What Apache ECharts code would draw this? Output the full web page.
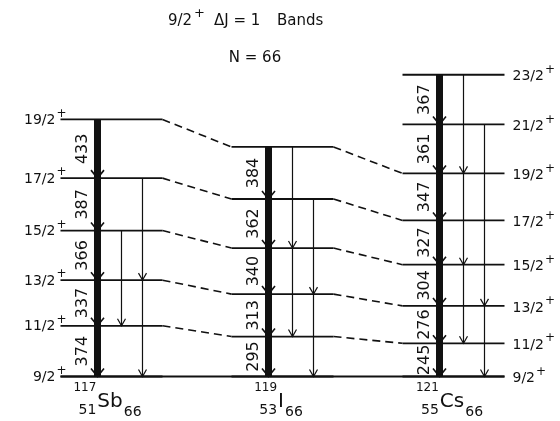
<!DOCTYPE html>
<html>
<head>
<meta charset="utf-8">
<script src="https://cdn.jsdelivr.net/npm/echarts@6/dist/echarts.min.js"></script>
<style>
  html, body { margin: 0; padding: 0; background: #fff; }
  #chart { width: 560px; height: 421px; }
</style>
</head>
<body>
<div id="chart"></div>
<script>
// Level schemes of the 9/2+ ΔJ=1 bands in the N=66 isotones
const nuclides = ['Sb', 'I', 'Cs'];
const massNumbers = [117, 119, 121];
const protonNumbers = [51, 53, 55];
const neutronNumbers = [66, 66, 66];

// ΔJ=1 gamma-ray energies (keV), listed from the 11/2 -> 9/2 transition upward
const sbTransitions = [374, 337, 366, 387, 433];
const iTransitions = [295, 313, 340, 362, 384];
const csTransitions = [245, 276, 304, 327, 347, 361, 367];

const spins = ['9/2', '11/2', '13/2', '15/2', '17/2', '19/2', '21/2', '23/2'];
const parity = '+';

// ΔJ=2 crossovers: [initial level, final level, arrowhead drawn]
const sbCrossovers = [[3, 1, true], [4, 2, true], [2, 0, true]];
const iCrossovers = [[5, 3, true], [3, 1, true], [4, 2, true], [2, 0, true]];
const csCrossovers = [[7, 5, true], [5, 3, true], [3, 1, true], [6, 4, false], [4, 2, true], [2, 0, true]];

const titleText = ['9/2', '+', 'ΔJ = 1', 'Bands'];
const subtitleText = 'N = 66';

const transitions = [sbTransitions, iTransitions, csTransitions];
const crossovers = [sbCrossovers, iCrossovers, csCrossovers];

// level energies relative to the 9/2+ band head
const levelEnergies = transitions.map(t => {
  const e = [0];
  t.forEach(v => e.push(e[e.length - 1] + v));
  return e;
});

const INK = '#111';
const FONT = '"DejaVu Sans", sans-serif';
const HALF = 51;          // half width of a level line (px)
const BAR_DX = -14;       // ΔJ=1 cascade position
const LANE_DX = [31, 10]; // crossover lanes (even / odd initial level)

const measureCtx = document.createElement('canvas').getContext('2d');
function textWidth(str, size) {
  measureCtx.font = size + 'px ' + FONT;
  return measureCtx.measureText(str).width;
}

function txt(x, y, text, size, align, vAlign, extra) {
  return Object.assign({
    type: 'text', x: x, y: y,
    style: { text: text, fill: INK, fontSize: size, fontFamily: FONT,
             align: align || 'left', verticalAlign: vAlign || 'middle' }
  }, extra || {});
}
function seg(x1, y1, x2, y2, w, dash) {
  return { type: 'line', shape: { x1, y1, x2, y2 },
           style: { stroke: INK, lineWidth: w, lineDash: dash || null, lineCap: 'butt' } };
}
function vHead(x, y, hw, h, w) {
  return { type: 'polyline', shape: { points: [[x - hw, y - h], [x, y], [x + hw, y - h]] },
           style: { stroke: INK, lineWidth: w, fill: null } };
}

function renderScheme(params, api) {
  const n = params.dataIndex;
  const energies = levelEnergies[n];
  const cx = api.coord([n, 0])[0];
  const py = energies.map(e => api.coord([n, e])[1]);
  const top = py.length - 1;
  const children = [];

  // level lines
  py.forEach(y => children.push(seg(cx - HALF, y, cx + HALF, y, 1.8)));

  // ΔJ=1 cascade: thick bar with arrowheads at each lower level
  const bx = cx + BAR_DX;
  children.push({ type: 'rect', shape: { x: bx - 3.5, y: py[top], width: 7, height: py[0] - py[top] },
                  style: { fill: INK } });
  for (let k = 0; k < top; k++) {
    children.push(vHead(bx, py[k], 6.5, 8, 1.6));
    const e = transitions[n][k];
    children.push(txt(cx - 29, (py[k] + py[k + 1]) / 2, String(e), 16, 'center', 'middle',
                      { rotation: Math.PI / 2 }));
  }

  // ΔJ=2 crossovers
  crossovers[n].forEach(([from, to, head]) => {
    const x = cx + LANE_DX[from % 2];
    children.push(seg(x, py[from], x, py[to], 1.2));
    if (head) children.push(vHead(x, py[to], 4, 7, 1.2));
  });

  // spin labels on the outer schemes
  if (n === 0) {
    py.forEach((y, k) => {
      children.push(txt(cx - HALF - 5, y + 1, spins[k], 14, 'right'));
      children.push(txt(cx - HALF - 4, y - 6, parity, 12, 'left'));
    });
  }
  if (n === nuclides.length - 1) {
    py.forEach((y, k) => {
      const x0 = cx + HALF + 8;
      children.push(txt(x0, y + 2, spins[k], 14, 'left'));
      children.push(txt(x0 + textWidth(spins[k], 14) + 1, y - 5, parity, 12, 'left'));
    });
  }

  // nuclide label  A/Z X N, centred a little left of the scheme centre
  const sym = nuclides[n];
  const A = String(massNumbers[n]), Z = String(protonNumbers[n]), N = String(neutronNumbers[n]);
  const sw = textWidth(sym, 20);
  const lw = Math.max(textWidth(A, 12), textWidth(Z, 14)) + 1;
  const rw = textWidth(N, 14) + 1;
  const sx = cx - 4 - (lw + sw + rw) / 2 + lw;
  const base = py[0];
  children.push(txt(sx, base + 25, sym, 20, 'left'));
  children.push(txt(sx - 1, base + 11, A, 12, 'right'));
  children.push(txt(sx - 1, base + 34, Z, 14, 'right'));
  children.push(txt(sx + sw + 1, base + 36, N, 14, 'left'));

  return { type: 'group', children: children };
}

function renderLinks(params, api) {
  const children = [];
  const nLast = nuclides.length - 1;
  // common 9/2+ band head
  const y0 = api.coord([0, 0])[1];
  children.push(seg(api.coord([0, 0])[0] - HALF, y0, api.coord([nLast, 0])[0] + HALF, y0, 1.8));
  // dashed links between equal spins of neighbouring isotones
  for (let n = 0; n < nLast; n++) {
    const shared = Math.min(levelEnergies[n].length, levelEnergies[n + 1].length);
    for (let k = 1; k < shared; k++) {
      const a = api.coord([n, levelEnergies[n][k]]);
      const b = api.coord([n + 1, levelEnergies[n + 1][k]]);
      children.push(seg(a[0] + HALF, a[1], b[0] - HALF, b[1], 1.6, [8, 5]));
    }
  }
  return { type: 'group', children: children };
}

const chart = echarts.init(document.getElementById('chart'), null, { renderer: 'canvas' });
chart.setOption({
  animation: false,
  backgroundColor: '#fff',
  grid: { left: 0, right: 0, top: 0, bottom: 0 },
  xAxis: { type: 'value', min: -0.652, max: 2.6228, show: false },
  yAxis: { type: 'value', min: -328.4, max: 2778.6, show: false },
  graphic: [
    txt(168, 21, titleText[0], 15, 'left'),
    txt(194, 14, titleText[1], 13, 'left'),
    txt(214, 21, titleText[2], 15, 'left'),
    txt(277, 21, titleText[3], 15, 'left'),
    txt(255, 58, subtitleText, 15, 'center')
  ],
  series: [
    { type: 'custom', coordinateSystem: 'cartesian2d', renderItem: renderLinks,
      data: [[0, 0]], silent: true, clip: false },
    { type: 'custom', coordinateSystem: 'cartesian2d', renderItem: renderScheme,
      data: levelEnergies.map((e, i) => [i, e[e.length - 1]]), silent: true, clip: false }
  ]
});
</script>
</body>
</html>
